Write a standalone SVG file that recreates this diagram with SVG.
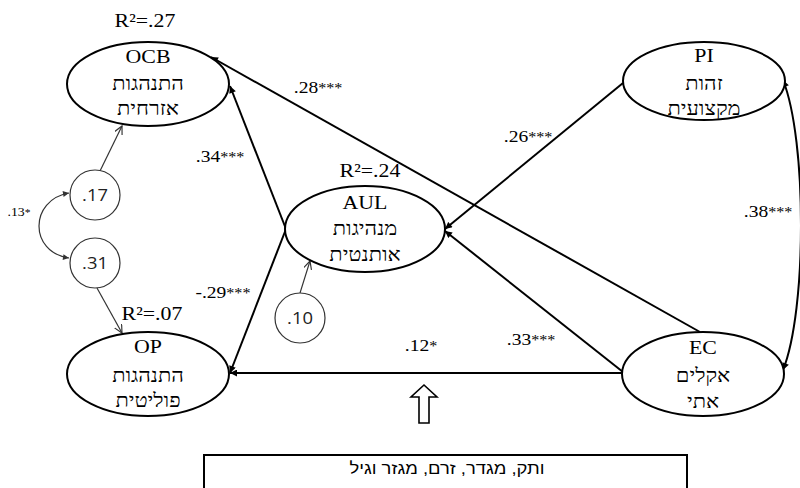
<svg xmlns="http://www.w3.org/2000/svg" width="800" height="488" viewBox="0 0 800 488">
<style>
.bg{fill:#fff}
.ell{fill:#fff;stroke:#000;stroke-width:2}
.sc{fill:#fff;stroke:#333;stroke-width:1.2}
.ln{fill:none;stroke:#000;stroke-width:2}
.thin{fill:none;stroke:#333;stroke-width:1.2}
.t{font-family:"Liberation Serif","DejaVu Serif",serif;font-size:19px;fill:#000;text-anchor:middle}
.lab{font-family:"Liberation Serif","DejaVu Serif",serif;font-size:17px;fill:#000}
.star{font-size:14px}
.num{font-family:"Open Sans","Liberation Sans",sans-serif;font-size:16px;fill:#222;text-anchor:middle}
.box{font-family:"Liberation Sans","DejaVu Sans",sans-serif;font-size:16px;fill:#000;text-anchor:middle}
.sx{transform-box:fill-box;transform-origin:center;transform:scaleX(1.15)}
</style>
<defs>
<marker id="ah" viewBox="0 0 10 10" refX="10" refY="5" markerWidth="8" markerHeight="7" markerUnits="userSpaceOnUse" orient="auto-start-reverse">
<path d="M0,0 L10,5 L0,10 z" fill="#000"/>
</marker>
<marker id="oh" viewBox="0 0 10 10" refX="9" refY="5" markerWidth="9" markerHeight="9" markerUnits="userSpaceOnUse" orient="auto-start-reverse">
<path d="M0,0.5 L9,5 L0,9.5" fill="none" stroke="#333" stroke-width="1.3"/>
</marker>
<marker id="sh" viewBox="0 0 10 10" refX="10" refY="5" markerWidth="7" markerHeight="6" markerUnits="userSpaceOnUse" orient="auto-start-reverse">
<path d="M0,0 L10,5 L0,10 z" fill="#333"/>
</marker>
</defs>
<rect class="bg" x="0" y="0" width="800" height="488"/>

<g id="connectors">
<line class="ln" x1="700" y1="332" x2="211" y2="57" marker-end="url(#ah)"/>
<line class="ln" x1="286" y1="229" x2="230" y2="86" marker-end="url(#ah)"/>
<line class="ln" x1="286" y1="229" x2="230" y2="373" marker-end="url(#ah)"/>
<line class="ln" x1="623" y1="373" x2="230" y2="373" marker-end="url(#ah)"/>
<line class="ln" x1="623" y1="372" x2="445" y2="231" marker-end="url(#ah)"/>
<line class="ln" x1="623" y1="83" x2="445" y2="229" marker-end="url(#ah)"/>
<path class="ln" d="M783,80 C807,140 807,310 783,370" marker-start="url(#ah)" marker-end="url(#ah)"/>
<line class="thin" x1="100" y1="171" x2="122" y2="126" marker-end="url(#oh)"/>
<line class="thin" x1="97" y1="288" x2="122" y2="333" marker-end="url(#oh)"/>
<line class="thin" x1="300" y1="293" x2="310" y2="261" marker-end="url(#oh)"/>
<path class="thin" d="M69,193 C29,200 29,252 69,258" marker-start="url(#sh)" marker-end="url(#sh)"/>
<text class="lab sx" x="297" y="93"><tspan>.28</tspan><tspan class="star">***</tspan></text>
<text class="lab sx" x="199" y="162"><tspan>.34</tspan><tspan class="star">***</tspan></text>
<text class="lab sx" x="199" y="298"><tspan>-.29</tspan><tspan class="star">***</tspan></text>
<text class="lab sx" x="407" y="351"><tspan>.12</tspan><tspan class="star">*</tspan></text>
<text class="lab sx" x="510" y="345"><tspan>.33</tspan><tspan class="star">***</tspan></text>
<text class="lab sx" x="507" y="142"><tspan>.26</tspan><tspan class="star">***</tspan></text>
<text class="lab sx" x="747" y="217"><tspan>.38</tspan><tspan class="star">***</tspan></text>
<text class="lab sx" x="9" y="216" style="font-size:12px"><tspan>.13</tspan><tspan style="font-size:10px">*</tspan></text>
</g>

<g id="OCB">
<ellipse class="ell" cx="148" cy="84" rx="81" ry="42"/>
<text class="t sx" x="145" y="27">R²=.27</text>
<text class="t sx" x="148" y="63">OCB</text>
<text class="t sx" x="148" y="90">התנהגות</text>
<text class="t sx" x="148" y="115">אזרחית</text>
</g>

<g id="PI">
<ellipse class="ell" cx="704" cy="81" rx="81" ry="39"/>
<text class="t sx" x="704" y="62">PI</text>
<text class="t sx" x="704" y="90">זהות</text>
<text class="t sx" x="704" y="115">מקצועית</text>
</g>

<g id="AUL">
<ellipse class="ell" cx="365" cy="229" rx="80" ry="43"/>
<text class="t sx" x="370" y="177">R²=.24</text>
<text class="t sx" x="365" y="209">AUL</text>
<text class="t sx" x="365" y="235">מנהיגות</text>
<text class="t sx" x="365" y="261">אותנטית</text>
</g>

<g id="OP">
<ellipse class="ell" cx="148" cy="374" rx="81" ry="42"/>
<text class="t sx" x="152" y="320">R²=.07</text>
<text class="t sx" x="148" y="353">OP</text>
<text class="t sx" x="148" y="382">התנהגות</text>
<text class="t sx" x="148" y="407">פוליטית</text>
</g>

<g id="EC">
<ellipse class="ell" cx="703" cy="374" rx="81" ry="42"/>
<text class="t sx" x="703" y="354">EC</text>
<text class="t sx" x="703" y="382">אקלים</text>
<text class="t sx" x="703" y="408">אתי</text>
</g>

<g id="e17">
<circle class="sc" cx="95" cy="195" r="25"/>
<text class="num sx" x="95" y="201">.17</text>
</g>
<g id="e31">
<circle class="sc" cx="95" cy="263" r="25"/>
<text class="num sx" x="95" y="269">.31</text>
</g>
<g id="e10">
<circle class="sc" cx="300" cy="318" r="25"/>
<text class="num sx" x="300" y="324">.10</text>
</g>

<g id="upArrow">
<polygon points="424,385 437,397 429,397 429,423 419,423 419,397 411,397" fill="#fff" stroke="#000" stroke-width="1.6" stroke-linejoin="miter"/>
</g>

<g id="controls">
<rect x="204" y="455" width="483" height="45" fill="#fff" stroke="#000" stroke-width="2"/>
<text class="box sx" x="447" y="474" direction="rtl">ותק, מגדר, זרם, מגזר וגיל</text>
</g>
</svg>
